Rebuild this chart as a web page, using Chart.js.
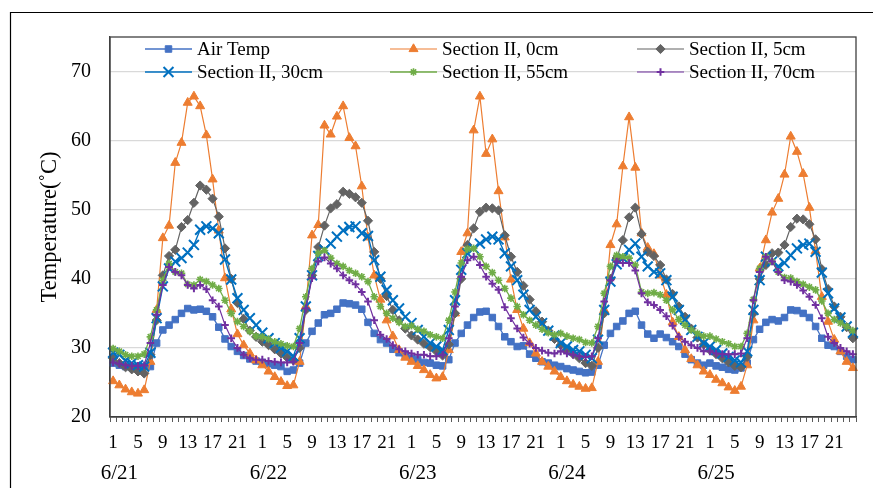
<!DOCTYPE html>
<html><head><meta charset="utf-8">
<script src="https://cdn.jsdelivr.net/npm/chart.js@4.4.1/dist/chart.umd.min.js"></script>
<style>html,body{margin:0;padding:0;background:#fff;}#wrap{position:relative;width:873px;height:488px;overflow:hidden;}</style>
</head><body><div id="wrap"><canvas id="c" width="873" height="488"></canvas></div>
<script>
const days = ['6/21','6/22','6/23','6/24','6/25'];
const hours = [1,2,3,4,5,6,7,8,9,10,11,12,13,14,15,16,17,18,19,20,21,22,23,24];
const hourTickLabels = [1,5,9,13,17,21];
const yTickValues = [20,30,40,50,60,70];

const airTemp = [
27.8,27.5,27.3,27.2,27.2,27.3,27.3,30.7,32.6,33.3,34.1,35.0,35.7,35.5,35.6,35.3,34.5,33.0,31.3,30.2,29.5,28.9,28.4,28.1,
27.9,27.7,27.5,27.3,26.6,26.8,27.8,30.7,32.4,33.6,34.8,35.0,35.6,36.5,36.4,36.2,35.6,33.7,32.1,31.2,30.7,29.8,29.3,28.9,
28.5,28.3,27.9,27.8,27.5,27.4,28.3,30.7,32.1,33.3,34.4,35.2,35.3,34.4,33.1,31.6,30.9,30.2,30.3,29.1,28.5,28.0,27.8,27.5,
27.3,27.0,26.8,26.6,26.4,26.5,27.5,30.4,32.1,33.1,33.9,35.0,35.3,33.3,32.0,31.4,32.0,31.5,30.9,30.2,29.1,28.3,27.8,27.5,
27.8,27.4,27.2,26.9,26.8,27.1,27.8,31.2,32.7,33.7,34.1,33.9,34.4,35.5,35.4,35.0,34.4,33.1,31.4,30.4,30.2,29.5,28.8,28.3];
const sec0 = [
25.2,24.6,24.0,23.6,23.4,23.9,28.0,35.5,45.9,47.7,56.8,59.7,65.5,66.4,65.0,60.8,54.4,47.0,40.1,35.6,32.0,30.4,29.2,28.2,
27.5,26.6,25.8,25.1,24.5,24.6,28.0,36.0,46.3,47.8,62.2,60.9,63.5,65.0,60.4,59.2,53.4,46.0,40.5,37.0,34.0,31.7,29.7,28.6,
28.0,27.4,26.8,26.1,25.6,25.8,29.7,35.0,43.9,46.6,61.5,66.4,58.1,60.2,52.7,46.0,39.9,35.5,32.8,30.7,29.2,28.0,27.3,26.6,
25.8,25.2,24.7,24.4,24.1,24.2,28.0,35.5,44.9,47.9,56.3,63.4,56.1,46.6,44.5,43.6,40.5,37.7,33.7,31.6,29.7,28.4,27.5,26.6,
26.1,25.4,24.9,24.3,23.8,24.4,27.5,34.0,41.5,45.6,49.6,51.6,55.1,60.6,58.4,55.2,50.3,44.0,37.4,33.8,31.2,29.5,28.0,27.1];
const sec5 = [
28.5,27.8,27.2,26.9,26.6,26.3,29.0,34.0,40.5,43.3,44.2,47.5,48.5,51.0,53.5,52.9,51.6,49.0,44.4,40.0,36.5,34.2,32.5,31.6,
30.9,30.4,29.8,29.2,28.6,28.2,30.0,35.5,40.5,44.6,47.7,50.2,50.8,52.6,52.3,51.8,51.0,48.4,43.9,40.0,37.5,35.5,34.0,32.8,
31.8,31.2,30.6,30.1,29.5,28.9,30.5,35.0,40.0,44.9,47.3,49.7,50.3,50.2,49.9,46.3,43.2,41.0,39.0,37.0,35.3,33.8,32.5,31.3,
30.4,29.8,29.1,28.5,27.8,27.4,30.0,35.0,40.0,43.0,45.6,48.9,50.3,46.5,43.9,43.3,42.0,39.9,37.8,36.0,34.5,32.8,31.5,30.5,
29.7,29.1,28.5,27.9,27.4,27.2,28.7,35.0,40.0,42.0,43.7,43.8,44.9,47.5,48.7,48.6,47.9,45.7,41.4,38.5,36.0,34.5,33.0,31.4];
const sec30 = [
29.3,29.0,28.2,27.8,27.5,27.3,29.3,34.3,38.9,41.5,42.5,43.0,43.8,44.9,47.1,47.6,47.3,46.6,42.8,39.9,37.2,35.5,34.3,33.3,
32.2,31.4,30.7,30.0,29.5,28.8,31.4,36.0,40.5,43.3,44.2,45.1,46.1,47.0,47.5,47.6,46.6,46.2,42.7,40.3,38.4,36.9,35.7,34.5,
33.6,32.6,31.6,30.7,30.2,29.7,32.6,36.9,41.3,43.7,44.4,45.1,45.7,46.1,45.7,43.7,41.8,39.8,37.7,35.5,34.5,33.6,32.5,31.8,
30.7,30.2,29.7,29.5,29.0,28.5,31.2,35.5,39.6,42.1,43.0,44.2,45.1,43.2,41.8,41.0,40.8,39.8,37.4,35.5,34.1,32.6,31.6,30.7,
30.2,29.7,29.2,28.7,28.2,27.9,29.5,35.5,39.8,43.2,42.5,41.8,42.3,43.4,44.4,44.9,45.1,43.9,40.9,37.9,35.7,34.4,33.1,32.2];
const sec55 = [
29.9,29.5,29.0,28.8,28.8,29.1,31.6,35.5,39.8,42.2,41.0,40.8,39.2,39.1,39.9,39.6,39.1,38.6,36.9,35.0,33.8,33.1,32.4,31.7,
31.6,31.3,30.9,30.6,30.3,30.2,32.8,37.4,41.5,43.7,44.1,43.0,42.2,41.8,41.2,40.8,40.3,39.6,37.4,36.0,35.0,34.3,33.7,33.1,
33.2,32.7,32.4,31.9,31.6,31.4,34.0,38.1,42.3,44.3,44.4,43.2,41.8,40.9,39.8,38.6,37.2,36.0,34.8,34.0,33.3,32.7,32.2,31.9,
32.1,31.7,31.4,31.2,30.8,30.7,33.1,37.9,41.8,43.4,43.2,43.0,42.0,38.1,37.9,38.0,37.7,36.9,35.5,34.1,33.3,32.6,32.1,31.7,
31.7,31.3,30.9,30.6,30.2,30.2,32.1,37.0,41.5,43.2,42.5,41.0,40.2,40.1,39.6,39.2,38.8,38.4,36.8,35.0,34.1,33.6,33.1,32.5];
const sec70 = [
27.9,27.7,27.5,27.4,27.4,27.5,30.7,34.8,39.1,41.7,41.0,40.5,39.1,38.6,39.1,38.5,36.9,36.0,33.3,31.4,30.0,29.0,28.5,28.3,
28.3,28.1,28.0,27.9,27.9,28.0,30.7,35.7,40.1,42.5,43.1,42.2,41.5,40.5,39.8,39.2,38.1,36.7,34.0,31.9,31.3,30.4,29.8,29.5,
29.2,29.0,29.0,28.8,28.8,29.0,31.4,36.0,40.3,42.7,43.2,42.0,40.3,39.3,38.4,35.9,34.3,32.8,31.5,30.6,30.0,29.6,29.3,29.2,
29.5,29.2,29.0,28.8,28.7,28.8,31.4,36.7,39.8,42.5,42.3,42.3,41.2,37.9,36.6,36.2,35.5,34.6,33.2,31.6,30.9,30.4,30.0,29.5,
29.5,29.2,29.1,29.1,29.1,29.2,31.4,36.9,41.0,43.2,42.5,41.0,39.8,39.6,39.1,38.3,37.4,36.2,34.3,31.6,30.7,30.0,29.5,29.1];

const FONT = "'Liberation Serif','Times New Roman',serif";
Chart.defaults.font.family = FONT;
Chart.defaults.color = '#000';

const categories = [];
days.forEach(() => hours.forEach(h => categories.push(String(h))));

const series = [
  {label:'Air Temp',         data:airTemp, color:'#4472C4', style:'rect',     r:4.6, bw:1,   lw:1.3},
  {label:'Section II, 0cm',  data:sec0,    color:'#ED7D31', style:'triangle', r:5.2, bw:1,   lw:1.2},
  {label:'Section II, 5cm',  data:sec5,    color:'#636363', style:'rectRot',  r:4.6, bw:1,   lw:1.2},
  {label:'Section II, 30cm', data:sec30,   color:'#0070C0', style:'crossRot', r:7,   bw:2,   lw:1.4},
  {label:'Section II, 55cm', data:sec55,   color:'#70AD47', style:'star',     r:3.8, bw:1.6, lw:1.3},
  {label:'Section II, 70cm', data:sec70,   color:'#7030A0', style:'cross',    r:3.8, bw:2,   lw:1.2}
];

function drawMarker(ctx, s, x, y) {
  ctx.fillStyle = s.color; ctx.strokeStyle = s.color; ctx.lineWidth = s.bw;
  if (Chart.helpers && Chart.helpers.drawPoint) {
    Chart.helpers.drawPoint(ctx, {pointStyle:s.style, radius:s.r, rotation:0, borderWidth:s.bw}, x, y);
  }
}

const overlay = {
  id:'overlay',
  afterDraw(chart) {
    const ctx = chart.ctx, a = chart.chartArea, xs = chart.scales.x;
    ctx.save();
    ctx.strokeStyle = '#404040'; ctx.lineWidth = 1.3;
    ctx.strokeRect(a.left, a.top, a.right - a.left, a.bottom - a.top);
    ctx.strokeStyle = '#000'; ctx.lineWidth = 1.2;
    ctx.beginPath(); ctx.moveTo(10.5, 488); ctx.lineTo(10.5, 12.5); ctx.lineTo(873, 12.5); ctx.stroke();
    ctx.fillStyle = '#000'; ctx.font = "21px " + FONT; ctx.textAlign = 'center'; ctx.textBaseline = 'middle';
    days.forEach((d, i) => ctx.fillText(d, xs.getPixelForValue(i * hours.length + 1), 473));
    const colX = [145, 390, 637], rowY = [49, 72];
    ctx.font = "19px " + FONT; ctx.textAlign = 'left';
    series.forEach((s, i) => {
      const x0 = colX[i % 3], y0 = rowY[Math.floor(i / 3)];
      ctx.strokeStyle = s.color; ctx.lineWidth = s.lw;
      ctx.beginPath(); ctx.moveTo(x0, y0); ctx.lineTo(x0 + 47, y0); ctx.stroke();
      drawMarker(ctx, s, x0 + 23.5, y0);
      ctx.fillStyle = '#000';
      ctx.fillText(s.label, x0 + 52, y0 + 1);
    });
    ctx.restore();
  }
};

new Chart(document.getElementById('c'), {
  type:'line',
  data:{
    labels:categories,
    datasets:series.map((s, i) => ({
      label:s.label, data:s.data, borderColor:s.color, backgroundColor:s.color,
      borderWidth:s.lw, pointStyle:s.style, pointRadius:s.r, pointBorderWidth:s.bw,
      pointBackgroundColor:s.color, pointBorderColor:s.color, tension:0, fill:false,
      order:series.length - i
    }))
  },
  options:{
    responsive:false, animation:false, events:[], devicePixelRatio:1,
    layout:{padding:{left:37, top:37, right:17, bottom:0}},
    plugins:{legend:{display:false}, tooltip:{enabled:false}},
    scales:{
      x:{
        type:'category', offset:true,
        grid:{display:true, drawOnChartArea:false, drawTicks:true, tickLength:5, color:'#595959', lineWidth:1, offset:true},
        border:{display:true, color:'#404040', width:1.3},
        ticks:{autoSkip:false, maxRotation:0, minRotation:0, padding:10, color:'#000', font:{size:19},
          callback(v, i) { const h = hours[i % hours.length]; return hourTickLabels.includes(h) ? String(h) : ''; }},
        afterFit(s) { s.height = 71; }
      },
      y:{
        min:20, max:75,
        afterBuildTicks(s) { s.ticks = yTickValues.map(v => ({value:v})); },
        ticks:{stepSize:10, padding:19, color:'#000', font:{size:20}},
        grid:{color:'#d9d9d9', lineWidth:1.3, drawTicks:false},
        border:{display:true, color:'#404040', width:1.3},
        title:{display:true, text:'Temperature(˚C)', font:{size:22.5}, color:'#000', padding:{top:0, bottom:0}},
        afterFit(s) { s.width = 73; }
      }
    }
  },
  plugins:[overlay]
});
</script></body></html>
